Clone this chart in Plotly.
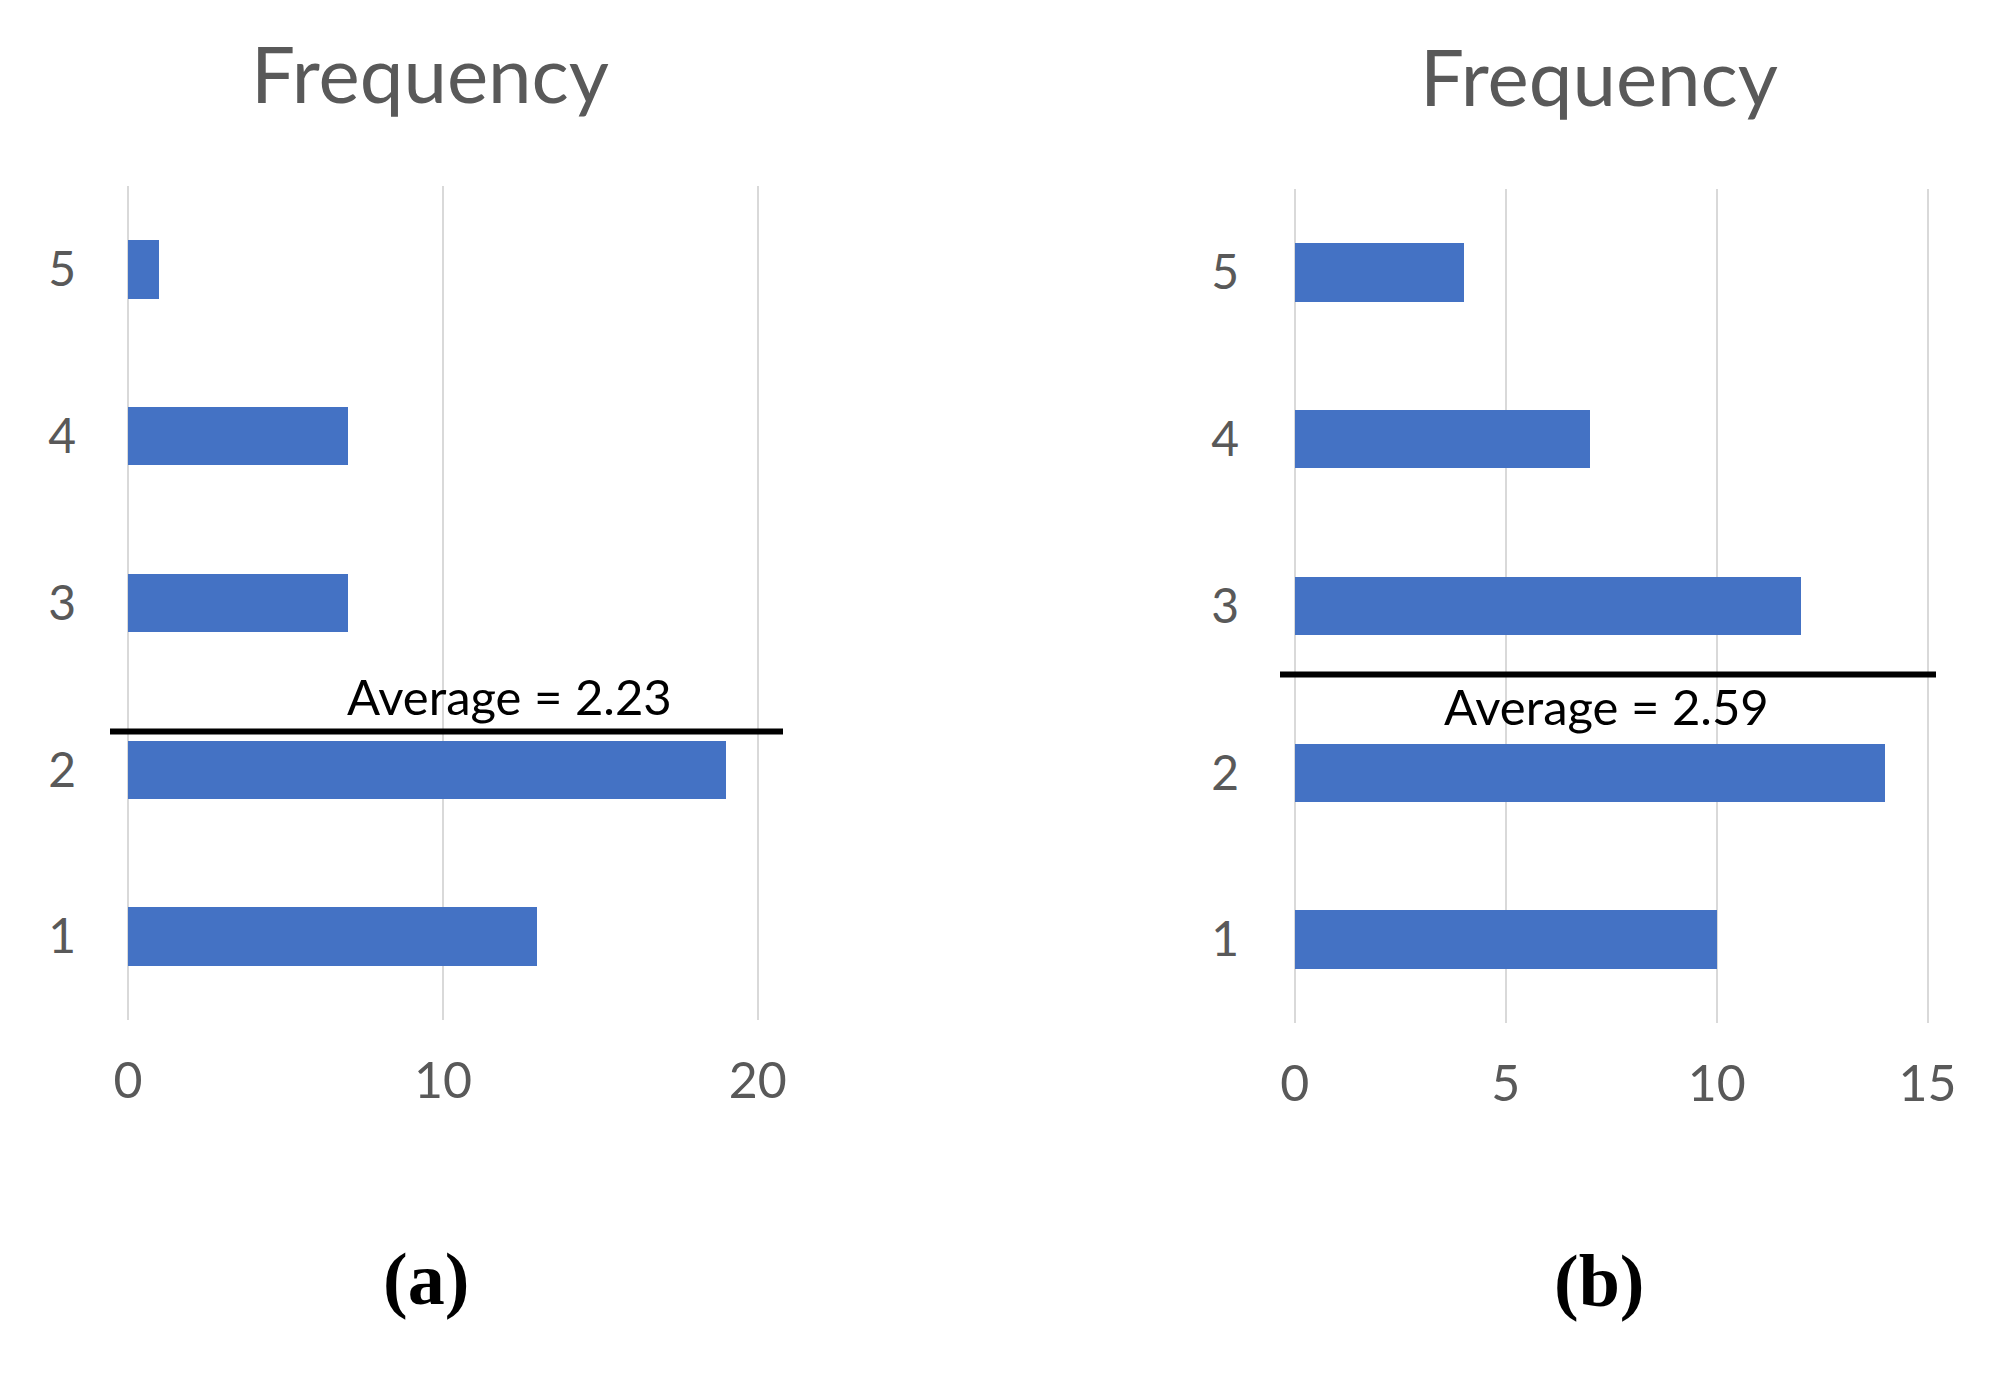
import plotly.graph_objects as go

# ---- data ----
categories = [1, 2, 3, 4, 5]
freq_a = [13, 19, 7, 7, 1]
freq_b = [10, 14, 12, 7, 4]
avg_a = 2.23
avg_b = 2.59
xticks_a = [0, 10, 20]
xticks_b = [0, 5, 10, 15]
title_text = "Frequency"
panel_labels = ["(a)", "(b)"]

W, H = 2016, 1376
OFF = 9  # page body margin compensation
BAR = "#4472C4"
GRID = "#D9D9D9"
TXT = "#595959"
FONT = "Lato"


def px(x):
    return (x - OFF) / W


def py(y):
    return 1 - (y - OFF) / H


fig = go.Figure()
fig.add_trace(go.Bar(y=categories, x=freq_a, orientation="h", width=0.35,
                     marker=dict(color=BAR, line=dict(width=0)),
                     xaxis="x", yaxis="y", showlegend=False))
fig.add_trace(go.Bar(y=categories, x=freq_b, orientation="h", width=0.35,
                     marker=dict(color=BAR, line=dict(width=0)),
                     xaxis="x2", yaxis="y2", showlegend=False))

xcommon = dict(showgrid=True, gridcolor=GRID, gridwidth=2, zeroline=False,
               showline=False, ticks="", tickfont=dict(family=FONT, size=50, color=TXT),
               ticklabelstandoff=27, automargin=False, fixedrange=True)
ycommon = dict(showgrid=False, zeroline=False, showline=False, ticks="",
               range=[0.5, 5.5], tickvals=categories,
               tickfont=dict(family=FONT, size=48, color=TXT),
               automargin=False, fixedrange=True)

fig.update_layout(
    width=W, height=H, autosize=False,
    margin=dict(l=0, r=0, t=0, b=0),
    paper_bgcolor="white", plot_bgcolor="white",
    bargap=0,
    xaxis=dict(**xcommon, domain=[px(111), px(784)], range=[-0.57, 20.8],
               tickvals=xticks_a, anchor="y"),
    yaxis=dict(**ycommon, domain=[py(1021), py(187)], anchor="x", ticklabelstandoff=33),
    xaxis2=dict(**xcommon, domain=[px(1281), px(1937)], range=[-0.35, 15.2],
                tickvals=xticks_b, anchor="y2"),
    yaxis2=dict(**ycommon, domain=[py(1024), py(190)], anchor="x2", ticklabelstandoff=40),
)

# average lines
fig.add_shape(type="line", xref="x domain", yref="y", x0=0, x1=1, y0=avg_a, y1=avg_a,
              line=dict(color="black", width=6))
fig.add_shape(type="line", xref="x2 domain", yref="y2", x0=0, x1=1, y0=avg_b, y1=avg_b,
              line=dict(color="black", width=6))

fig.add_annotation(x=12.1, y=avg_a, xref="x", yref="y", text=f"Average = {avg_a:.2f}",
                   showarrow=False, yanchor="bottom", yshift=4,
                   font=dict(family=FONT, size=49, color="black"))
fig.add_annotation(x=7.4, y=avg_b, xref="x2", yref="y2", text=f"Average = {avg_b:.2f}",
                   showarrow=False, yanchor="top", yshift=-1,
                   font=dict(family=FONT, size=49, color="black"))

# titles
fig.add_annotation(x=px(431), y=py(74), xref="paper", yref="paper", text=title_text,
                   showarrow=False, xanchor="center", yanchor="middle",
                   font=dict(family=FONT, size=78, color=TXT))
fig.add_annotation(x=px(1600), y=py(77), xref="paper", yref="paper", text=title_text,
                   showarrow=False, xanchor="center", yanchor="middle",
                   font=dict(family=FONT, size=78, color=TXT))

# panel labels
fig.add_annotation(x=px(427), y=py(1280), xref="paper", yref="paper", text=f"<b>{panel_labels[0]}</b>",
                   showarrow=False, xanchor="center", yanchor="middle",
                   font=dict(family="Liberation Serif", size=74, color="black"))
fig.add_annotation(x=px(1600), y=py(1282), xref="paper", yref="paper", text=f"<b>{panel_labels[1]}</b>",
                   showarrow=False, xanchor="center", yanchor="middle",
                   font=dict(family="Liberation Serif", size=74, color="black"))

fig.write_html("out.html", config={"displayModeBar": False})
